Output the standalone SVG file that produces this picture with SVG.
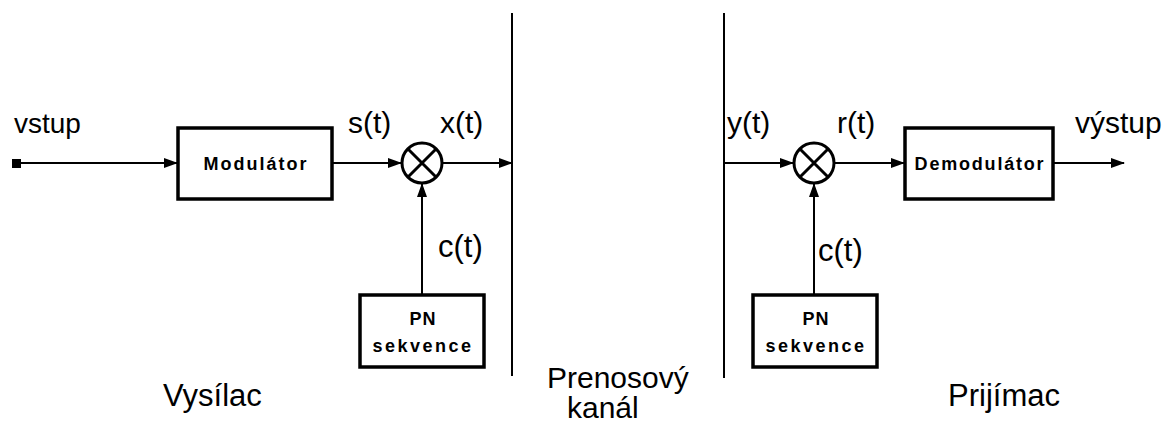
<svg xmlns="http://www.w3.org/2000/svg" width="1168" height="428" viewBox="0 0 1168 428">
<defs>
<marker id="ah" markerWidth="14" markerHeight="10" refX="13" refY="5" orient="auto" markerUnits="userSpaceOnUse">
<path d="M0,0 L14,5 L0,10 Z" fill="#000"/>
</marker>
<style>
.box{fill:#fff;stroke:#000;stroke-width:3.5}
.lbl{font-family:"Liberation Sans",Arial,sans-serif;font-size:30px;fill:#000}
.sec{font-family:"Liberation Sans",Arial,sans-serif;font-size:31px;fill:#000}
.bl{font-family:"Liberation Sans",Arial,sans-serif;font-size:18px;font-weight:bold;fill:#000;text-anchor:middle;letter-spacing:2px}
.cn{stroke:#000;stroke-width:2;fill:none}
.sep{stroke:#000;stroke-width:2}
.mix{fill:#fff;stroke:#000;stroke-width:3}
</style>
</defs>
<rect width="1168" height="428" fill="#fff"/>
<g id="separators">
<line class="sep" x1="512" y1="13" x2="512" y2="376"/>
<line class="sep" x1="724" y1="13" x2="724" y2="378"/>
</g>
<g id="connectors">
<line class="cn" x1="20" y1="163" x2="177" y2="163" marker-end="url(#ah)"/>
<line class="cn" x1="332" y1="163" x2="401" y2="163" marker-end="url(#ah)"/>
<line class="cn" x1="443" y1="163" x2="512" y2="163" marker-end="url(#ah)"/>
<line class="cn" x1="422" y1="294" x2="422" y2="184" marker-end="url(#ah)"/>
<line class="cn" x1="724" y1="163" x2="793" y2="163" marker-end="url(#ah)"/>
<line class="cn" x1="835" y1="163" x2="904" y2="163" marker-end="url(#ah)"/>
<line class="cn" x1="1053" y1="163" x2="1124" y2="163" marker-end="url(#ah)"/>
<line class="cn" x1="814" y1="294" x2="814" y2="184" marker-end="url(#ah)"/>
</g>
<g id="input">
<rect x="12" y="159" width="9" height="9" fill="#000"/>
<text class="lbl" x="14" y="133" style="font-size:28px">vstup</text>
</g>
<g id="modulator">
<rect class="box" x="178" y="128" width="154" height="71"/>
<text class="bl" x="256" y="170">Modulátor</text>
</g>
<g id="mixer-tx">
<circle class="mix" cx="422" cy="163" r="20"/>
<path class="cn" d="M408,149 L436,177 M436,149 L408,177" style="stroke-width:3"/>
<text class="lbl" x="348" y="133">s(t)</text>
<text class="lbl" x="440" y="133">x(t)</text>
<text class="lbl" x="438" y="257" style="font-size:31px">c(t)</text>
</g>
<g id="pn-tx">
<rect class="box" x="360" y="295" width="124" height="72"/>
<text class="bl" x="423" y="325" style="letter-spacing:1px">PN</text>
<text class="bl" x="423" y="352" style="letter-spacing:2.5px">sekvence</text>
</g>
<g id="mixer-rx">
<circle class="mix" cx="814" cy="163" r="20"/>
<path class="cn" d="M800,149 L828,177 M828,149 L800,177" style="stroke-width:3"/>
<text class="lbl" x="727" y="133">y(t)</text>
<text class="lbl" x="837" y="133">r(t)</text>
<text class="lbl" x="818" y="261" style="font-size:31px">c(t)</text>
</g>
<g id="pn-rx">
<rect class="box" x="753" y="295" width="124" height="72"/>
<text class="bl" x="816" y="325" style="letter-spacing:1px">PN</text>
<text class="bl" x="816" y="352" style="letter-spacing:2.5px">sekvence</text>
</g>
<g id="demodulator">
<rect class="box" x="905" y="128" width="148" height="71"/>
<text class="bl" x="980" y="170" style="letter-spacing:1.8px">Demodulátor</text>
<text class="lbl" x="1075" y="133">výstup</text>
</g>
<g id="section-labels">
<text class="sec" x="163" y="406">Vysílac</text>
<text class="sec" x="547" y="388" style="font-size:30px">Prenosový</text>
<text class="sec" x="567" y="418" style="font-size:30px">kanál</text>
<text class="sec" x="948" y="406">Prijímac</text>
</g>
</svg>
